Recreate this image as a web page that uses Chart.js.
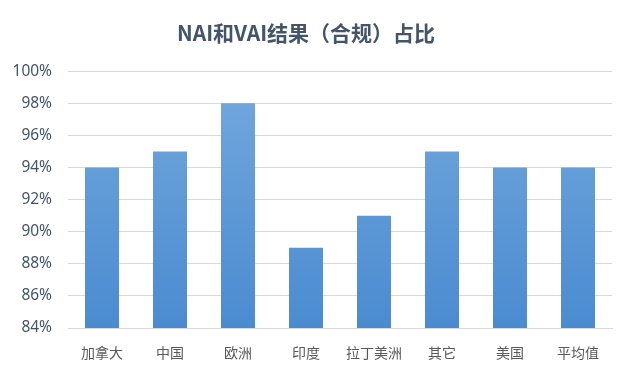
<!DOCTYPE html>
<html>
<head>
<meta charset="utf-8">
<script src="https://cdn.jsdelivr.net/npm/chart.js@4.4.0/dist/chart.umd.min.js"></script>
<style>
  html, body { margin: 0; padding: 0; background: #fff; }
  #wrap { width: 628px; height: 378px; }
</style>
</head>
<body>
<div id="wrap"><canvas id="chart" width="628" height="378"></canvas></div>
<script>
var categories = ['加拿大', '中国', '欧洲', '印度', '拉丁美洲', '其它', '美国', '平均值'];
var shareValues = [94, 95, 98, 89, 91, 95, 94, 94];
var yTicks = [84, 86, 88, 90, 92, 94, 96, 98, 100];

function barGradient(context) {
  var chart = context.chart;
  var area = chart.chartArea;
  if (!area) return '#5b9bd5';
  var g = chart.ctx.createLinearGradient(0, area.top, 0, area.bottom);
  g.addColorStop(0, '#74a9de');
  g.addColorStop(1, '#4a8bd0');
  return g;
}

var ctx = document.getElementById('chart').getContext('2d');
var shareChart = new Chart(ctx, {
  type: 'bar',
  data: {
    labels: categories,
    datasets: [{
      label: '占比',
      data: shareValues,
      backgroundColor: barGradient,
      borderWidth: 0,
      barPercentage: 0.5,
      categoryPercentage: 1.0
    }]
  },
  options: {
    responsive: false,
    animation: false,
    layout: { padding: { top: 4, right: 16, bottom: 0, left: 0 } },
    plugins: {
      legend: { display: false },
      tooltip: { enabled: false },
      title: {
        display: true,
        text: 'NAI和VAI结果（合规）占比',
        color: '#44546a',
        font: { family: "'Noto Sans CJK SC', 'Noto Sans', sans-serif", size: 21, weight: 'bold' },
        padding: { top: 16, bottom: 26 }
      }
    },
    scales: {
      x: {
        grid: { display: false, drawTicks: false },
        border: { display: true, color: '#d9d9d9', width: 1 },
        afterFit: function (axis) { axis.height = 50; },
        ticks: {
          color: '#595959',
          padding: 16,
          font: { family: "'Noto Sans CJK SC', sans-serif", size: 14 }
        }
      },
      y: {
        min: 84,
        max: 100,
        afterBuildTicks: function (axis) {
          axis.ticks = yTicks.map(function (v) { return { value: v }; });
        },
        afterFit: function (axis) { axis.width = 68; },
        grid: { color: '#d9d9d9', lineWidth: 1, drawTicks: false },
        border: { display: false },
        ticks: {
          color: '#44546a',
          padding: 16,
          font: { family: "'Noto Sans', 'Liberation Sans', sans-serif", size: 15.5 },
          callback: function (v) { return v + '%'; }
        }
      }
    }
  }
});
</script>
</body>
</html>
